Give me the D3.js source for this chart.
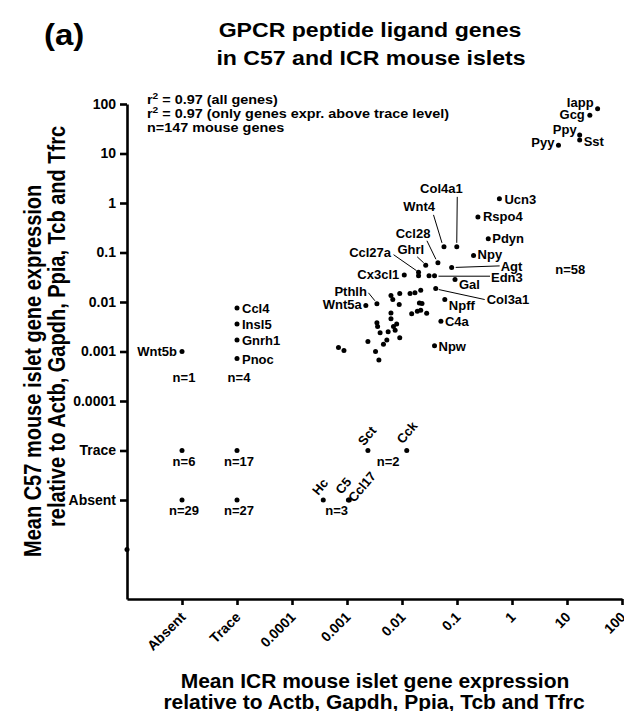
<!DOCTYPE html>
<html>
<head>
<meta charset="utf-8">
<script src="https://cdn.jsdelivr.net/npm/d3@7"></script>
<style>
  body { margin: 0; background: #fff; }
  svg { font-family: Arial, "Liberation Sans", sans-serif; font-weight: bold; }
</style>
</head>
<body>
<script>
// axis levels, both axes
const levels = ['Absent', 'Trace', '0.0001', '0.001', '0.01', '0.1', '1', '10', '100']

// labelled genes: mean ICR expression (x) and mean C57 expression (y)
const geneNames = ['Iapp', 'Gcg', 'Ppy', 'Sst', 'Pyy', 'Ucn3', 'Rspo4', 'Pdyn', 'Npy', 'Col4a1',
  'Wnt4', 'Ccl28', 'Agt', 'Ghrl', 'Ccl27a', 'Cx3cl1', 'Edn3', 'Gal', 'Col3a1', 'Npff',
  'C4a', 'Npw', 'Pthlh', 'Wnt5a', 'Wnt5b', 'Ccl4', 'Insl5', 'Gnrh1', 'Pnoc',
  'Sct', 'Cck', 'Hc', 'C5', 'Ccl17']
const geneICR = [36, 26, 17, 17, 7.0, 0.59, 0.24, 0.37, 0.20, 0.099,
  0.058, 0.045, 0.080, 0.027, 0.020, 0.011, 0.039, 0.092, 0.041, 0.060,
  0.051, 0.039, 0.0035, 0.0022, 'Absent', 'Trace', 'Trace', 'Trace', 'Trace',
  0.0024, 0.0122, 0.00037, 0.00106, 0.0011]
const geneC57 = [80, 59, 23.7, 18.7, 14.7, 1.22, 0.52, 0.19, 0.087, 0.13,
  0.13, 0.062, 0.050, 0.055, 0.040, 0.035, 0.034, 0.0285, 0.0187, 0.0112,
  0.0041, 0.0013, 0.0092, 0.0085, 0.001, 0.0076, 0.0036, 0.0017, 0.00072,
  'Trace', 'Trace', 'Absent', 'Absent', 'Absent']

// unlabelled genes expressed above trace level
const otherICR = [0.020, 0.031, 0.0063, 0.0068, 0.0091, 0.0089, 0.014, 0.0172, 0.0219, 0.0207,
  0.0231, 0.015, 0.019, 0.0219, 0.0281, 0.0063, 0.0063, 0.0035, 0.0036, 0.0070,
  0.0080, 0.0040, 0.0056, 0.0075, 0.0091, 0.0053, 0.0024, 0.0046, 0.00070, 0.00088,
  0.0033, 0.0038, 1e-7]
const otherC57 = [0.034, 0.034, 0.0135, 0.0112, 0.0148, 0.0089, 0.0148, 0.0153, 0.0173, 0.0096,
  0.0093, 0.0058, 0.0065, 0.0068, 0.0059, 0.0060, 0.0046, 0.0038, 0.0032, 0.0032,
  0.0036, 0.0024, 0.0025, 0.0027, 0.0019, 0.0017, 0.0016, 0.0014, 0.0012, 0.00105,
  0.0010, 0.00067, 1e-7]

// genes at Absent / Trace level in both strains, one dot per group
const groupICR = ['Absent', 'Absent', 'Trace', 'Trace']
const groupC57 = ['Trace', 'Absent', 'Trace', 'Absent']
const groupN = ['n=6', 'n=29', 'n=17', 'n=27']

// other counts
const countText = ['n=1', 'n=4', 'n=2', 'n=3', 'n=58']
const countICR = ['Absent', 'Trace', 0.0056, 0.00065, 11.5]
const countC57 = [0.00024, 0.00024, 'Trace', 'Absent', 0.036]

const statsText = ['r2 = 0.97 (all genes)', 'r2 = 0.97 (only genes expr. above trace level)', 'n=147 mouse genes']

// label placement: [dx, dy, anchor] or with leader line / rotation
const labelPos = {
  Iapp: [-4, -2, 'end'], Gcg: [-5, 4, 'end'], Ppy: [-3, -1, 'end'], Sst: [4, 6, 'start'],
  Pyy: [-4, 2, 'end'], Ucn3: [5, 5], Rspo4: [5, 4], Pdyn: [4, 4], Npy: [4, 4],
  Cx3cl1: [-5, 4, 'end'], Gal: [4, 10], Npff: [4, 10], C4a: [4, 5], Npw: [4, 5],
  Wnt5a: [-4, 4, 'end'], Wnt5b: [-5, 4, 'end'], Ccl4: [5, 5], Insl5: [5, 5],
  Gnrh1: [5, 5], Pnoc: [5, 5],
  Col4a1: [6, -54, 'end', [0.5, -50, 0, -4]],
  Wnt4: [-9, -36, 'end', [-10.5, -32, -2, -4]],
  Ccl28: [-7.5, -25, 'end', [-11, -22, -2, -3.5]],
  Ghrl: [-1.5, -11.5, 'end', [-8.5, -8.5, -2, -2.5]],
  Ccl27a: [-27.5, -15.5, 'end', [-25, -17.5, -2, -1.5]],
  Agt: [49, 3.5, 'start', [4, 0, 48, -1.5]],
  Edn3: [56.5, 6.5, 'start', [4, 0.5, 55.5, 0.5]],
  Col3a1: [51, 15, 'start', [3, 1, 49, 11]],
  Pthlh: [-10, -7.5, 'end', [-8.5, -11, -2, -3]],
  Sct: [-4, -4, 'start', null, -50], Cck: [-4, -6, 'start', null, -50],
  Hc: [-5, -4, 'start', null, -50], C5: [-7, -5, 'start', null, -50],
  Ccl17: [5, 3, 'start', null, -50]
}

const width = 624
const height = 711
const plotLeft = 127
const plotRight = 622
const plotTop = 104
const plotBottom = 599

const svg = d3.select('body').append('svg')
  .attr('width', width)
  .attr('height', height)

const logIdx = d3.scaleLog().domain([1e-4, 100]).range([2, 8])
const idx = v => typeof v === 'string' ? levels.indexOf(v) : logIdx(v)

const x = d3.scaleLinear().domain([-1, 8]).range([plotLeft, plotRight])
const y = d3.scaleLinear().domain([-2, 8]).range([plotBottom, plotTop])
const px = v => x(idx(v))
const py = v => y(idx(v))

// axes
const xAxis = svg.append('g')
  .attr('transform', `translate(0,${plotBottom})`)
  .call(d3.axisBottom(x).tickValues(d3.range(0, 9)).tickFormat(i => levels[i])
    .tickSize(6).tickSizeOuter(0))
xAxis.selectAll('text')
  .attr('y', 0).attr('dy', 0)
  .attr('transform', 'translate(4,19) rotate(-45)')
  .attr('text-anchor', 'end')

const yAxis = svg.append('g')
  .attr('transform', `translate(${plotLeft},0)`)
  .call(d3.axisLeft(y).tickValues(d3.range(0, 9)).tickFormat(i => levels[i])
    .tickSize(7).tickPadding(4).tickSizeOuter(0))

svg.selectAll('.domain, .tick line')
  .attr('stroke', '#000')
  .attr('stroke-width', 2.6)
svg.selectAll('.tick text')
  .attr('fill', '#000')
  .style('font-size', '14px')
  .style('font-weight', 'bold')

// dots
const genes = geneNames.map((name, i) => ({ name, icr: geneICR[i], c57: geneC57[i] }))
const others = otherICR.map((v, i) => ({ icr: v, c57: otherC57[i] }))
const groups = groupICR.map((v, i) => ({ icr: v, c57: groupC57[i], n: groupN[i] }))

svg.append('g').selectAll('circle')
  .data([...genes, ...others, ...groups])
  .enter()
  .append('circle')
  .attr('cx', d => px(d.icr))
  .attr('cy', d => py(d.c57))
  .attr('r', 2.5)
  .attr('fill', '#000')

// gene labels
const labels = svg.append('g').style('font-size', '13px')
genes.forEach(d => {
  const p = labelPos[d.name]
  const cx = px(d.icr)
  const cy = py(d.c57)
  if (p[3]) {
    labels.append('line')
      .attr('x1', cx + p[3][0]).attr('y1', cy + p[3][1])
      .attr('x2', cx + p[3][2]).attr('y2', cy + p[3][3])
      .attr('stroke', '#000')
      .attr('stroke-width', 1)
  }
  labels.append('text')
    .attr('transform', `translate(${cx + p[0]},${cy + p[1]}) rotate(${p[4] || 0})`)
    .attr('text-anchor', p[2] || 'start')
    .text(d.name)
})

// counts
const counts = svg.append('g').style('font-size', '13px').attr('text-anchor', 'middle')
counts.selectAll('text.group')
  .data(groups)
  .enter()
  .append('text')
  .attr('x', d => px(d.icr) + 2)
  .attr('y', d => py(d.c57) + 15)
  .text(d => d.n)
countText.forEach((t, i) => {
  counts.append('text')
    .attr('x', px(countICR[i]) + (typeof countICR[i] === 'string' ? 2 : 0))
    .attr('y', py(countC57[i]) + (typeof countC57[i] === 'string' ? 15 : 0))
    .text(t)
})

// stats text (the original type is a little wider than it is tall)
const stats = svg.append('g').style('font-size', '12px')
statsText.forEach((t, i) => {
  const tx = stats.append('text')
    .attr('transform', `translate(147,${104 + i * 14}) scale(1.2,1)`)
  if (t.startsWith('r2')) {
    tx.append('tspan').text('r')
    tx.append('tspan').attr('dy', -5).style('font-size', '8.5px').text('2')
    tx.append('tspan').attr('dy', 5).text(t.slice(2))
  } else {
    tx.text(t)
  }
})

// titles
svg.append('text')
  .attr('transform', 'translate(44,45) scale(1.1,1)')
  .style('font-size', '30px')
  .text('(a)')

const title = svg.append('g').attr('text-anchor', 'middle').style('font-size', '21px')
title.append('text').attr('transform', 'translate(370,37) scale(1.1,1)')
  .text('GPCR peptide ligand genes')
title.append('text').attr('transform', 'translate(371,65) scale(1.1,1)')
  .text('in C57 and ICR mouse islets')

const xLabel = svg.append('g').attr('text-anchor', 'middle').style('font-size', '21px')
xLabel.append('text').attr('x', 375).attr('y', 688).text('Mean ICR mouse islet gene expression')
xLabel.append('text').attr('x', 374).attr('y', 709).text('relative to Actb, Gapdh, Ppia, Tcb and Tfrc')

const yLabel = svg.append('g').style('font-size', '20px')
yLabel.append('text')
  .attr('transform', 'translate(41,557) scale(1.15,1) rotate(-90)')
  .text('Mean C57 mouse islet gene expression')
yLabel.append('text')
  .attr('transform', 'translate(65,527) scale(1.15,1) rotate(-90)')
  .text('relative to Actb, Gapdh, Ppia, Tcb and Tfrc')
</script>
</body>
</html>
